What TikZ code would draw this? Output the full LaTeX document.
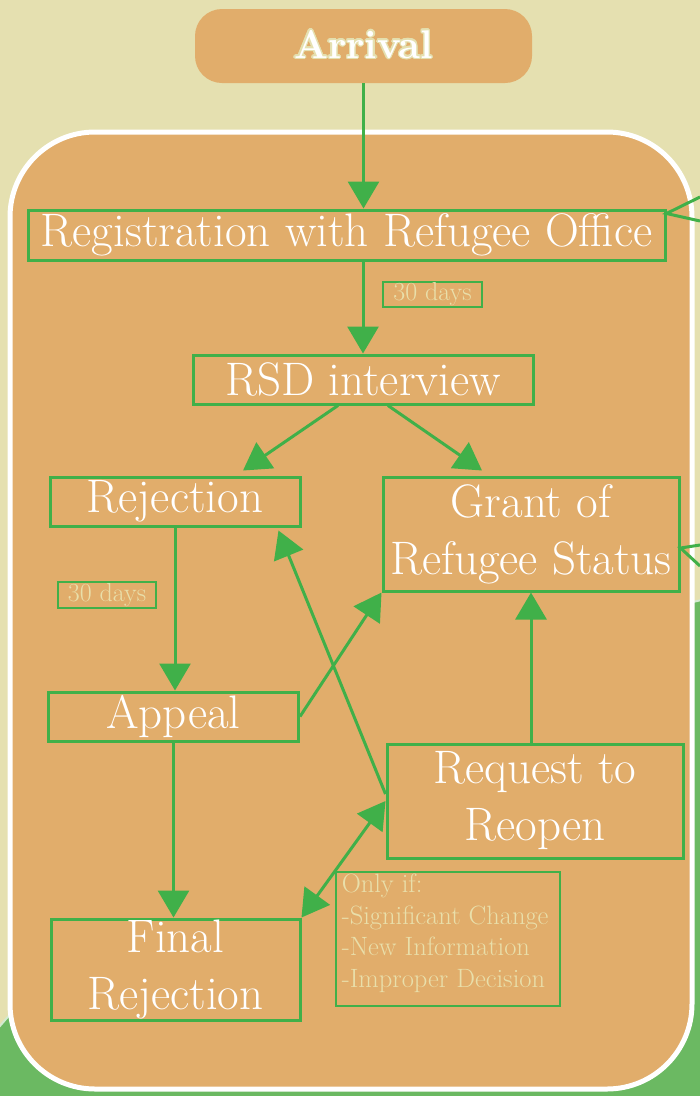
\documentclass[tikz,border=0pt]{standalone}
\usepackage{tikz}
\usepackage{contour}
\usetikzlibrary{arrows.meta}
\definecolor{paper}{RGB}{229,224,176}
\definecolor{panel}{RGB}{225,173,107}
\definecolor{leaf}{RGB}{107,185,98}
\definecolor{linegreen}{RGB}{64,176,73}
\definecolor{cream}{RGB}{233,223,170}
\contourlength{1.4pt}
\tikzstyle{stage} = [rectangle, draw=linegreen, line width=3pt, fill=panel, text=white, inner sep=0pt, align=center, font=\fontsize{47}{57}\selectfont]
\tikzstyle{daysbox} = [rectangle, draw=linegreen, line width=1.5pt, text=cream, inner sep=0pt, font=\fontsize{26}{28}\selectfont]
\tikzstyle{arrow} = [line width=3pt, draw=linegreen, ->, >={Triangle[length=27pt,width=31pt]}]

\begin{document}
\begin{tikzpicture}[x=1pt, y=-1pt]
		\useasboundingbox (0,0) rectangle (700,1096);
		\clip (0,0) rectangle (700,1096);
		\fill [paper] (0,0) rectangle (700,1096);
		\draw [draw=leaf!30!white, line width=2pt, fill=leaf] (1000,1883) circle (1317pt);
		\draw [white, line width=5pt, fill=panel, rounded corners=85pt] (10,132) rectangle (692,1089);
		\node (arrival) [rectangle, rounded corners=27pt, fill=panel, text=white, minimum width=337pt, minimum height=74pt, font=\fontsize{40}{42}\selectfont\bfseries] at (363.5,46) {\raisebox{4pt}{\contour{paper}{Arrival}}};
		\node (reg) [stage, minimum width=637pt, minimum height=50pt] at (346.5,235) {Registration with Refugee Office};
		\node (rsd) [stage, minimum width=340pt, minimum height=49pt] at (363,379.5) {RSD interview};
		\node (rej) [stage, minimum width=250pt, minimum height=49pt] at (175,501.5) {Rejection};
		\node (grant) [stage, minimum width=296pt, minimum height=114pt] at (531,534) {Grant of\\Refugee Status};
		\node (appeal) [stage, minimum width=250pt, minimum height=49pt] at (173.5,716.5) {Appeal};
		\node (reopen) [stage, minimum width=296pt, minimum height=114pt] at (535,801) {Request to\\Reopen};
		\node (final) [stage, minimum width=249pt, minimum height=101pt] at (175.5,969.5) {Final\\Rejection};
		\node (days1) [daysbox, minimum width=99pt, minimum height=25pt] at (432.5,294.5) {30 days};
		\node (days2) [daysbox, minimum width=98pt, minimum height=26pt] at (107,595) {30 days};
		\node (onlyif) [daysbox, anchor=north west, inner xsep=6pt, inner ysep=2pt, font=\fontsize{26.5}{31.7}\selectfont] at (335,871) {\parbox[t][130pt][t]{212pt}{Only if:\\-Significant Change\\-New Information\\-Improper Decision}};
		\coordinate (regout1) at (700,197);
		\coordinate (regout2) at (700,221);
		\coordinate (grantin1) at (700,545);
		\coordinate (grantin2) at (700,566);
		\draw [arrow] (arrival.south) -- (arrival.south |- reg.north);
		\draw [arrow] (rsd.north |- reg.south) -- (rsd.north);
		\draw [arrow] ([xshift=-25pt]rsd.south) -- ([xshift=68pt,yshift=5pt]rej.north);
		\draw [arrow] ([xshift=25pt]rsd.south) -- ([xshift=-49pt,yshift=5pt]grant.north);
		\draw [arrow] (rej.south) -- (rej.south |- appeal.north);
		\draw [arrow] (appeal.east) -- (grant.south west);
		\draw [arrow] ([yshift=7pt]reopen.west) -- ([xshift=-23pt,yshift=-3pt]rej.south east);
		\draw [arrow, <->] (final.north east) -- (reopen.west);
		\draw [arrow] (grant.south |- reopen.north) -- (grant.south);
		\draw [arrow] (appeal.south) -- (appeal.south |- final.north);
		\draw [linegreen, line width=3pt] (regout1) -- ([yshift=-5pt]reg.north east) -- (regout2);
		\draw [linegreen, line width=3pt] (grantin1) -- ([yshift=-14pt]grant.east) -- (grantin2);
		\end{tikzpicture}
\end{document}
